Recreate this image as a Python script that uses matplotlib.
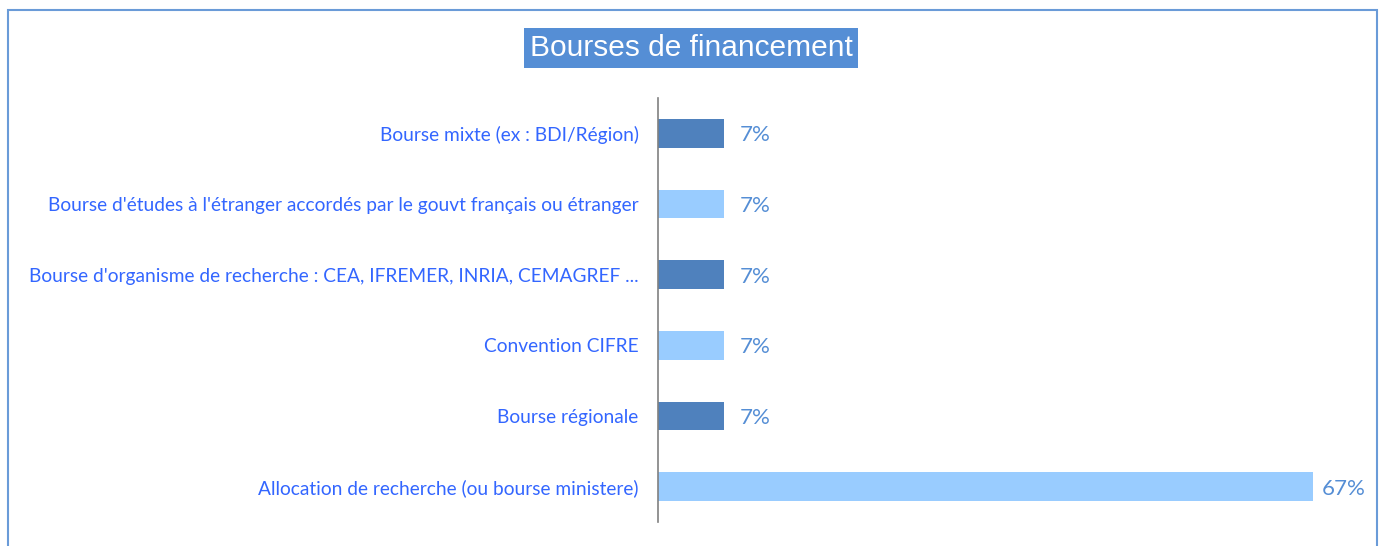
import matplotlib.pyplot as plt
from matplotlib.patches import Rectangle

categories = [
    "Bourse mixte (ex : BDI/Région)",
    "Bourse d'études à l'étranger accordés par le gouvt français ou étranger",
    "Bourse d'organisme de recherche : CEA, IFREMER, INRIA, CEMAGREF ...",
    "Convention CIFRE",
    "Bourse régionale",
    "Allocation de recherche (ou bourse ministere)",
]
values = [6.67, 6.67, 6.67, 6.67, 6.67, 66.67]
value_labels = ["7%", "7%", "7%", "7%", "7%", "67%"]

dark = "#4F81BD"
light = "#99CCFF"
colors = [dark, light, dark, light, dark, light]

W, H = 1381, 546
fig = plt.figure(figsize=(W / 100, H / 100), dpi=100)

# plot area in pixels: x 658..1313, y 98..522
ax = fig.add_axes([658 / W, 1 - 522 / H, (1313 - 658) / W, (522 - 98) / H])
ypos = list(range(len(categories)))[::-1]
ax.barh(ypos, values, height=0.41, color=colors, edgecolor="none")
ax.set_xlim(0, 66.67)
ax.set_ylim(-0.5, 5.5)

for s in ["top", "right", "bottom"]:
    ax.spines[s].set_visible(False)
ax.spines["left"].set_color("#808080")
ax.spines["left"].set_linewidth(1.2)
ax.set_xticks([])
ax.set_yticks(ypos)
ax.set_yticklabels(categories, fontsize=13.8, color="#3366FF", family="Lato")
ax.tick_params(axis="y", length=0, pad=14)

for y, v, lab in zip(ypos, values, value_labels):
    off = 9 if v > 60 else 16
    ax.annotate(lab, (v, y - 0.03), xytext=(off, 0), textcoords="offset pixels",
                ha="left", va="center", fontsize=16, color="#558ED5",
                family="Lato", annotation_clip=False)

# title with filled box
fig.text(691 / W, 1 - 48 / H, "Bourses de financement", ha="center", va="center",
         fontsize=21.5, color="white", family="Liberation Sans",
         bbox=dict(boxstyle="square,pad=0.2", facecolor="#558ED5", edgecolor="none"))

# outer frame
fig.patches.append(Rectangle((8 / W, -0.05), (1377 - 8) / W, 1.05 - 10 / H,
                             transform=fig.transFigure, fill=False,
                             edgecolor="#6A9BD8", linewidth=1.5))

fig.savefig("out.png", dpi=100)
